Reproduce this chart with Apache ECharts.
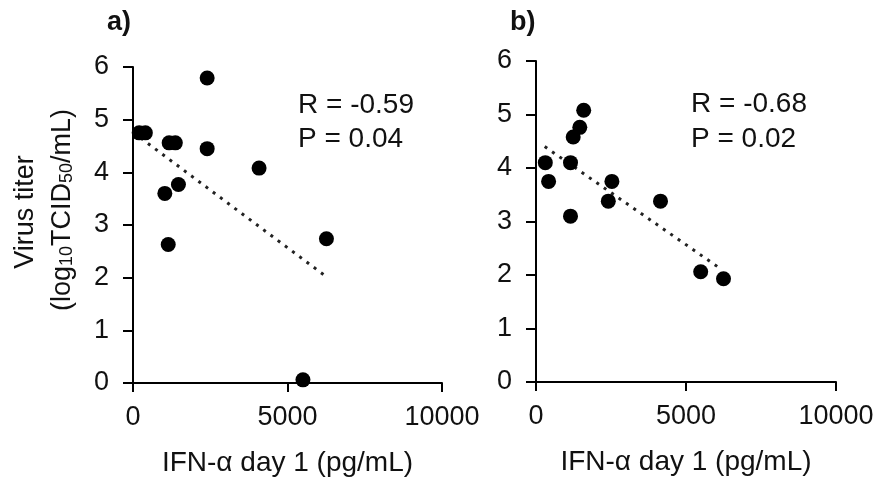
<!DOCTYPE html>
<html><head><meta charset="utf-8">
<script src="https://cdn.jsdelivr.net/npm/echarts@6/dist/echarts.min.js"></script>
<style>html,body{margin:0;padding:0;background:#fff}#c{width:881px;height:482px}</style>
</head><body><div id="c"></div>
<script>
// Panel a data: [IFN-α pg/mL, log10 TCID50/mL]
const ifnA   = [200, 400, 1170, 1370, 2400, 2400, 4080, 1470, 1030, 1140, 6260, 5500];
const titerA = [4.75, 4.75, 4.56, 4.56, 5.79, 4.45, 4.08, 3.77, 3.60, 2.63, 2.74, 0.06];
const trendA = [[250, 4.65], [6300, 2.0]];
const statsA = ['R = -0.59', 'P = 0.04'];
// Panel b data
const ifnB   = [310, 420, 1150, 1150, 1240, 1460, 1590, 2530, 2410, 4150, 5490, 6250];
const titerB = [4.10, 3.75, 4.10, 3.10, 4.58, 4.76, 5.08, 3.75, 3.38, 3.38, 2.06, 1.93];
const trendB = [[290, 4.40], [6120, 2.13]];
const statsB = ['R = -0.68', 'P = 0.02'];
const xTicks = [0, 5000, 10000];
const yTicks = [0, 1, 2, 3, 4, 5, 6];
const panelLabels = ['a)', 'b)'];
const xTitle = 'IFN-α day 1 (pg/mL)';

const FONT = 'Liberation Sans, Arial, sans-serif';
const TXT = '#111';
const pair = (xs, ys) => xs.map((x, i) => [x, ys[i]]);

function xAxis(i) {
  return {
    gridIndex: i, type: 'value', min: xTicks[0], max: xTicks[xTicks.length - 1], interval: 5000,
    axisLine: { show: true, onZero: false, lineStyle: { color: '#000', width: 2 } },
    axisTick: { show: true, length: 9, lineStyle: { color: '#000', width: 2 } },
    splitLine: { show: false },
    axisLabel: { color: TXT, fontSize: 27, fontFamily: FONT, margin: 21, formatter: v => String(v) },
    name: xTitle, nameLocation: 'middle', nameGap: 66,
    nameTextStyle: { color: TXT, fontSize: 28, fontFamily: FONT }
  };
}
function yAxis(i) {
  return {
    gridIndex: i, type: 'value', min: yTicks[0], max: yTicks[yTicks.length - 1], interval: 1,
    axisLine: { show: true, onZero: false, lineStyle: { color: '#000', width: 2 } },
    axisTick: { show: true, length: 10, lineStyle: { color: '#000', width: 2 } },
    splitLine: { show: false },
    axisLabel: { color: TXT, fontSize: 27, fontFamily: FONT, margin: 24, formatter: v => String(v) }
  };
}
function scatter(i, data) {
  return { type: 'scatter', xAxisIndex: i, yAxisIndex: i, data, symbolSize: 15,
    itemStyle: { color: '#000', opacity: 1 }, z: 3 };
}
function trend(i, data) {
  return { type: 'line', xAxisIndex: i, yAxisIndex: i, data, symbol: 'none',
    lineStyle: { color: '#222', width: 3, type: [3, 6] }, z: 2 };
}
function txt(x, y, text, extra) {
  return Object.assign({ type: 'text', x, y,
    style: { text, fill: TXT, fontSize: 28, fontFamily: FONT, textAlign: 'left', textVerticalAlign: 'middle' } }, extra || {});
}

const chart = echarts.init(document.getElementById('c'), null, { renderer: 'canvas' });
chart.setOption({
  animation: false,
  backgroundColor: '#fff',
  grid: [
    { left: 133, top: 67, width: 309, height: 317 },
    { left: 536, top: 61, width: 300, height: 321 }
  ],
  xAxis: [xAxis(0), xAxis(1)],
  yAxis: [yAxis(0), yAxis(1)],
  series: [
    trend(0, trendA), scatter(0, pair(ifnA, titerA)),
    trend(1, trendB), scatter(1, pair(ifnB, titerB))
  ],
  graphic: [
    { type: 'text', x: 107, y: 23, style: { text: panelLabels[0], fill: TXT, fontSize: 27, fontWeight: 'bold', fontFamily: FONT, textVerticalAlign: 'middle' } },
    { type: 'text', x: 510, y: 23, style: { text: panelLabels[1], fill: TXT, fontSize: 27, fontWeight: 'bold', fontFamily: FONT, textVerticalAlign: 'middle' } },
    txt(298, 105, statsA[0]), txt(298, 139, statsA[1]),
    txt(691, 104, statsB[0]), txt(691, 139, statsB[1]),
    { type: 'text', x: 26, y: 212, rotation: Math.PI / 2,
      style: { text: 'Virus titer', fill: TXT, fontSize: 27, fontFamily: FONT, textAlign: 'center', textVerticalAlign: 'middle' } },
    { type: 'text', x: 61, y: 210, rotation: Math.PI / 2,
      style: { text: '{n|(log}{s|10}{n|TCID}{s|50}{n|/mL)}', fill: TXT, fontFamily: FONT, textAlign: 'center', textVerticalAlign: 'middle',
        rich: { n: { fontSize: 27, fontFamily: FONT, fill: TXT, verticalAlign: 'bottom', lineHeight: 30 },
                s: { fontSize: 18, fontFamily: FONT, fill: TXT, verticalAlign: 'bottom', lineHeight: 22 } } } }
  ]
});
</script></body></html>
